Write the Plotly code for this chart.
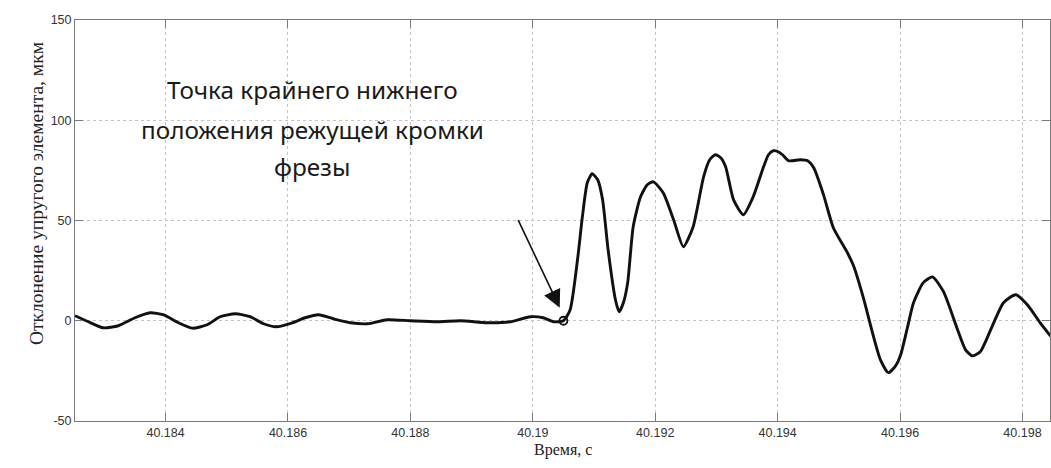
import plotly.graph_objects as go

# Deflection of the elastic element vs. time
time_s = [
    40.18252, 40.18274, 40.18298, 40.18323, 40.18350, 40.18375, 40.18396, 40.18421,
    40.18444, 40.18468, 40.18489, 40.18514, 40.18538, 40.18560, 40.18581, 40.18607,
    40.18628, 40.18650, 40.18674, 40.18702, 40.18730, 40.18762, 40.18800, 40.18844,
    40.18882, 40.18926, 40.18963, 40.18996, 40.19017, 40.19034, 40.19050, 40.19061,
    40.19073, 40.19081, 40.19089, 40.19097, 40.19106, 40.19114, 40.19123, 40.19135,
    40.19141, 40.19148, 40.19155, 40.19164, 40.19176, 40.19187, 40.19197, 40.19213,
    40.19230, 40.19246, 40.19262, 40.19279, 40.19289, 40.19298, 40.19307, 40.19315,
    40.19328, 40.19344, 40.19360, 40.19377, 40.19385, 40.19393, 40.19401, 40.19408,
    40.19418, 40.19437, 40.19449, 40.19459, 40.19475, 40.19491, 40.19514, 40.19524,
    40.19540, 40.19555, 40.19568, 40.19581, 40.19593, 40.19601, 40.19612, 40.19622,
    40.19638, 40.19653, 40.19671, 40.19694, 40.19707, 40.19718, 40.19731, 40.19753,
    40.19769, 40.19789, 40.19808, 40.19829, 40.19847,
]
deflection_um = [
    2.5, -0.5, -3.5, -2.5, 1.5, 4.0, 3.0, -1.0,
    -3.7, -2.0, 2.0, 3.5, 2.0, -1.5, -3.0, -1.0,
    1.5, 3.0, 1.0, -1.0, -1.5, 0.5, 0.0, -0.5,
    0.0, -1.0, -0.5, 2.0, 1.5, -0.5, 0.0, 5.5,
    30.4, 51.9, 68.8, 73.3, 70.3, 60.3, 35.4, 10.5,
    4.5, 9.0, 19.0, 46.9, 61.8, 67.8, 69.3, 63.8,
    50.4, 36.9, 46.9, 71.8, 80.3, 82.8, 81.3, 76.8,
    60.3, 52.9, 61.8, 76.8, 82.8, 84.8, 84.3, 82.8,
    79.8, 80.3, 79.8, 76.3, 62.8, 46.4, 33.9, 27.4,
    11.5, -6.0, -19.5, -25.9, -22.4, -17.0, -3.5, 9.0,
    19.0, 21.9, 14.5, -4.5, -14.5, -17.5, -15.5, -1.0,
    9.0, 13.0, 8.0, -1.0, -8.0,
]

# Lowest point of the cutting edge
low_point_t = [40.19050]
low_point_y = [0.0]

x_ticks = [40.184, 40.186, 40.188, 40.19, 40.192, 40.194, 40.196, 40.198]
x_tick_text = ["40.184", "40.186", "40.188", "40.19", "40.192", "40.194", "40.196", "40.198"]
y_ticks = [-50, 0, 50, 100, 150]
y_tick_text = ["-50", "0", "50", "100", "150"]

x_range = [40.18252, 40.19845]
y_range = [-50, 150]

note_lines = ["Точка крайнего нижнего", "положения режущей кромки", "фрезы"]
note_line_y = [115.2, 95.3, 76.8]

fig = go.Figure()
fig.add_trace(go.Scatter(
    x=time_s, y=deflection_um, mode="lines",
    line=dict(color="#111111", width=2.9, shape="spline", smoothing=0.6),
    hoverinfo="skip", showlegend=False,
))
fig.add_trace(go.Scatter(
    x=low_point_t, y=low_point_y, mode="markers",
    marker=dict(symbol="circle-open", size=8, color="#111111", line=dict(width=1.8)),
    showlegend=False,
))

axis_common = dict(
    showline=True, linecolor="#7a7a7a", linewidth=1, mirror="ticks",
    ticks="inside", ticklen=8, tickcolor="#7a7a7a", tickwidth=1,
    showgrid=True, gridcolor="#c4c4c4", griddash="dot", gridwidth=1,
    zeroline=False,
    tickfont=dict(family="Liberation Sans, Arial, sans-serif", size=12.5, color="#333333"),
)

fig.update_xaxes(range=x_range, tickvals=x_ticks, ticktext=x_tick_text, **axis_common)
fig.update_yaxes(range=y_range, tickvals=y_ticks, ticktext=y_tick_text, **axis_common)

fig.add_annotation(
    text="Время, с", xref="paper", yref="paper", x=0.5, y=-0.045,
    xanchor="center", yanchor="top", showarrow=False,
    font=dict(family="Liberation Serif, Times New Roman, serif", size=16, color="#222222"),
)
fig.add_annotation(
    text="Отклонение упругого элемента, мкм", xref="paper", yref="paper",
    x=-0.04, y=0.566, xanchor="center", yanchor="middle", textangle=-90, showarrow=False,
    font=dict(family="Liberation Serif, Times New Roman, serif", size=19.5, color="#222222"),
)
for line_text, line_y in zip(note_lines, note_line_y):
    fig.add_annotation(
        text=line_text, xref="x", yref="y", x=40.18640, y=line_y,
        xanchor="center", yanchor="middle", showarrow=False,
        font=dict(family="Noto Sans, sans-serif", size=24.3, color="#1a1a1a"),
    )
fig.add_annotation(
    xref="x", yref="y", axref="x", ayref="y",
    x=40.19044, y=6.5, ax=40.18975, ay=50.9,
    text="", showarrow=True, arrowhead=2, arrowsize=2.2, arrowwidth=1.6,
    arrowcolor="#111111",
)

fig.update_layout(
    width=1051, height=468,
    margin=dict(l=75, r=1, t=20, b=47),
    paper_bgcolor="white", plot_bgcolor="white",
)

fig.write_html("out.html")
